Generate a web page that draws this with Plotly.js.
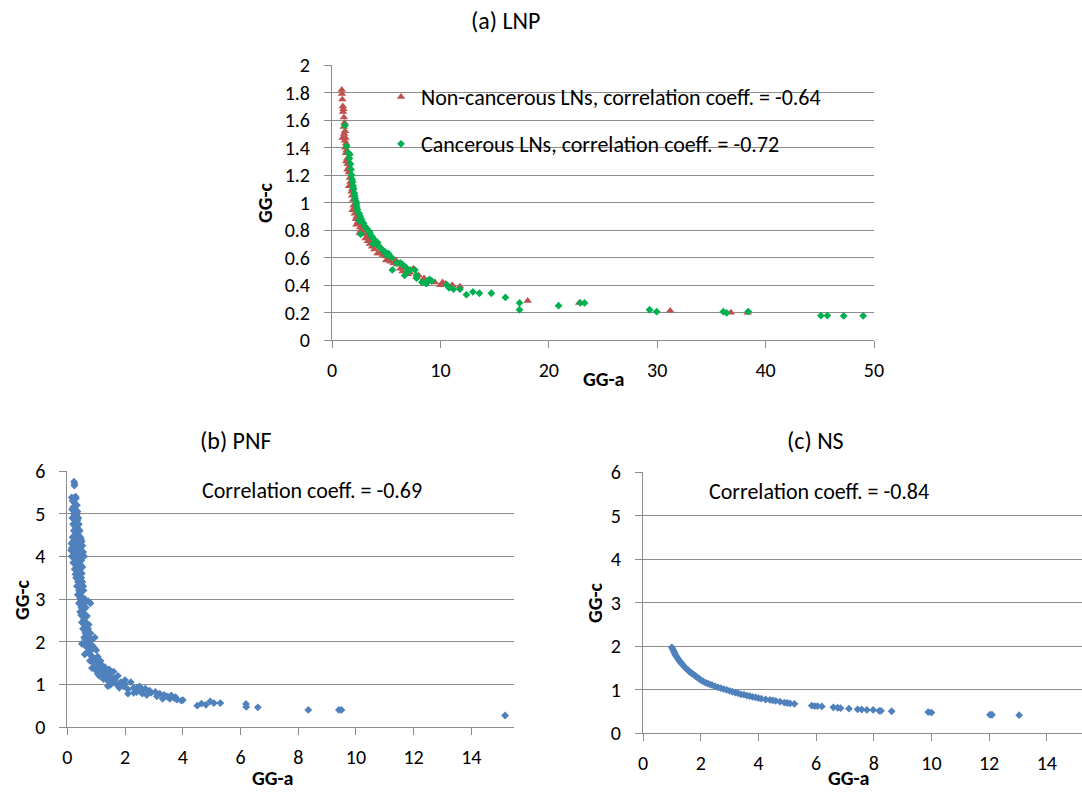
<!DOCTYPE html>
<html>
<head>
<meta charset="utf-8">
<script src="https://cdn.plot.ly/plotly-3.0.1.min.js"></script>
<style>html,body{margin:0;padding:0;background:#fff;}#chart{width:1082px;height:798px;}</style>
</head>
<body>
<div id="chart"></div>
<script>
// ---------- (a) LNP data ----------
const nonCancerX = [0.9,0.92,0.95,1.0,1.02,1.05,0.98,1.1,1.08,1.12,1.15,1.2,1.18,1.25,1.22,1.3,1.28,1.35,1.4,1.32,1.45,1.5,1.42,1.55,1.6,1.65,1.7,1.58,1.75,1.8,1.85,1.9,1.95,2.0,1.88,2.05,2.1,2.2,2.15,2.3,2.4,2.25,2.5,2.6,2.7,2.8,2.55,2.9,3.0,3.1,3.2,3.3,3.4,3.5,3.6,3.7,3.8,3.9,4.0,4.2,4.4,4.5,4.3,4.7,4.9,5.0,5.2,5.4,5.5,5.7,5.9,6.0,6.3,6.5,6.8,7.0,7.2,7.5,7.8,8.0,8.5,9.0,9.5,10.0,10.2,10.5,11.1,11.8,18.05,22.8,31.2,36.8,38.35];
const nonCancerY = [1.82,1.79,1.75,1.70,1.66,1.68,1.47,1.62,1.55,1.50,1.58,1.52,1.45,1.47,1.40,1.43,1.36,1.38,1.32,1.30,1.28,1.30,1.24,1.22,1.26,1.18,1.15,1.12,1.12,1.08,1.05,0.945,1.02,0.98,1.10,0.95,0.92,0.88,0.97,0.90,0.86,0.84,0.85,0.82,0.80,0.83,0.78,0.77,0.80,0.74,0.77,0.72,0.75,0.70,0.73,0.68,0.71,0.66,0.70,0.63,0.63,0.67,0.69,0.62,0.61,0.58,0.60,0.57,0.59,0.56,0.58,0.55,0.52,0.50,0.53,0.48,0.49,0.52,0.46,0.47,0.45,0.43,0.42,0.40,0.42,0.41,0.40,0.39,0.285,0.27,0.213,0.20,0.20];
const cancerX = [1.2,1.35,1.5,1.64,1.6,1.7,1.75,1.8,1.85,1.9,1.95,2.0,2.05,2.1,2.15,2.2,2.25,2.3,2.35,2.4,2.5,2.6,2.7,2.5,2.8,2.9,3.0,3.1,3.2,2.65,3.3,3.4,3.5,3.6,3.7,3.8,4.0,4.2,3.8,4.3,4.5,4.7,4.9,5.0,5.2,5.5,5.57,6.0,6.3,6.5,6.8,7.0,6.7,7.2,7.65,7.8,7.8,8.3,8.8,8.7,9.0,9.2,10.6,10.8,11.2,11.8,12.4,13.0,13.6,14.7,16.0,17.3,17.3,20.9,22.9,23.3,29.3,29.95,36.1,36.4,38.4,45.1,45.7,47.2,49.0];
const cancerY = [1.56,1.41,1.36,1.35,1.32,1.28,1.24,1.20,1.17,1.15,1.12,1.10,1.07,1.05,1.03,1.01,0.99,0.97,0.95,0.93,0.92,0.90,0.88,0.87,0.86,0.85,0.83,0.82,0.81,0.77,0.80,0.79,0.78,0.76,0.75,0.74,0.72,0.71,0.70,0.68,0.67,0.65,0.64,0.62,0.63,0.60,0.51,0.56,0.56,0.55,0.53,0.50,0.47,0.51,0.51,0.47,0.45,0.42,0.43,0.41,0.44,0.43,0.40,0.38,0.37,0.37,0.33,0.35,0.34,0.34,0.31,0.27,0.22,0.25,0.27,0.27,0.22,0.206,0.206,0.197,0.207,0.177,0.178,0.175,0.176];

// ---------- (b) PNF data ----------
const pnfX = [0.23,0.25,0.24,0.15,0.2,0.28,0.3,0.18,0.25,0.33,0.2,0.28,0.35,0.22,0.3,0.38,0.17,0.26,0.33,0.4,0.2,0.28,0.36,0.43,0.22,0.3,0.38,0.45,0.18,0.26,0.34,0.42,0.5,0.14,0.22,0.3,0.38,0.46,0.12,0.2,0.28,0.36,0.44,0.55,0.58,0.15,0.24,0.32,0.4,0.48,0.2,0.28,0.36,0.44,0.52,0.25,0.32,0.4,0.48,0.3,0.37,0.45,0.52,0.33,0.4,0.48,0.56,0.36,0.44,0.52,0.6,0.72,0.8,0.4,0.48,0.56,0.64,0.44,0.52,0.6,0.68,0.5,0.58,0.66,0.74,0.54,0.62,0.7,0.8,0.58,0.66,0.75,0.85,0.95,0.5,0.62,0.72,0.82,0.92,1.0,0.6,0.75,0.85,0.95,1.05,1.15,0.78,0.9,1.0,1.1,1.2,1.3,1.45,1.6,0.85,1.0,1.15,1.3,1.45,1.6,1.75,1.1,1.25,1.4,1.55,1.7,1.85,2.0,2.2,1.48,1.4,1.8,1.95,2.1,2.3,2.5,2.6,2.7,2.1,2.3,2.4,2.6,2.75,2.9,3.05,3.2,3.35,3.5,3.6,3.75,3.3,3.55,3.8,3.95,4.0,4.5,4.65,4.8,4.95,5.08,5.3,6.19,6.2,6.6,8.35,9.41,9.5,15.17,
  0.16,0.24,0.32,0.27,0.35,0.24,0.31,0.4,0.26,0.34,0.47,0.2,0.3,0.4,0.52,0.16,0.25,0.33,0.42,0.5,0.3,0.38,0.45,0.35,0.42,0.5,0.28,0.36,0.44,0.55,0.38,0.45,0.42,0.5,0.58,0.46,0.52,0.6,0.48,0.56,0.64,0.72,0.6,0.68,0.76,0.62,0.7,0.88,0.68,0.8,0.9,1.02,0.95,1.12,1.22,1.35,1.5,1.05,1.2,1.35,1.5,1.65,1.8,2.0,2.4,2.55,2.85,3.1,3.45,3.7];
const pnfY = [5.75,5.70,5.66,5.38,5.35,5.40,5.36,5.30,5.25,5.20,5.15,5.10,5.05,5.00,4.95,4.90,4.90,4.85,4.80,4.75,4.75,4.70,4.65,4.60,4.60,4.55,4.50,4.45,4.45,4.40,4.35,4.30,4.35,4.30,4.25,4.20,4.15,4.20,4.15,4.10,4.05,4.00,4.05,4.10,4.00,4.00,3.95,3.90,3.85,3.90,3.85,3.80,3.75,3.70,3.75,3.70,3.60,3.55,3.50,3.50,3.40,3.35,3.40,3.30,3.20,3.15,3.20,3.10,3.00,2.95,3.00,2.95,2.90,2.90,2.80,2.75,2.80,2.70,2.60,2.55,2.60,2.45,2.40,2.35,2.40,2.30,2.20,2.15,2.20,2.10,2.00,1.95,2.05,2.10,1.95,1.90,1.85,1.80,1.85,1.80,1.70,1.72,1.65,1.60,1.65,1.55,1.55,1.50,1.45,1.50,1.45,1.40,1.35,1.30,1.38,1.32,1.28,1.25,1.20,1.15,1.20,1.20,1.12,1.08,1.05,1.00,1.05,1.10,1.05,0.98,0.96,0.92,0.95,0.88,0.92,0.95,0.88,0.90,0.78,0.80,0.82,0.78,0.75,0.80,0.82,0.78,0.75,0.70,0.74,0.70,0.66,0.66,0.64,0.62,0.63,0.50,0.55,0.52,0.60,0.56,0.56,0.54,0.47,0.46,0.40,0.40,0.40,0.27,
  5.10,5.05,4.98,4.90,4.85,4.78,4.68,4.60,4.50,4.45,4.40,4.35,4.30,4.25,4.25,4.20,4.15,4.12,4.10,4.00,3.95,3.95,3.80,3.65,3.62,3.60,3.58,3.45,3.45,3.30,3.28,3.25,3.08,3.05,2.90,2.95,2.85,2.65,2.62,2.50,2.45,2.30,2.30,2.25,2.10,2.05,1.95,1.90,1.75,1.70,1.62,1.55,1.48,1.40,1.35,1.32,1.28,1.25,1.22,1.18,1.12,1.10,1.00,1.00,0.90,0.82,0.85,0.72,0.72,0.68];

// ---------- (c) NS data ----------
const nsX = [1.0,1.02,1.05,1.08,1.1,1.13,1.16,1.2,1.24,1.28,1.32,1.36,1.4,1.45,1.5,1.55,1.6,1.65,1.7,1.76,1.82,1.88,1.94,2.0,2.08,2.16,2.24,2.32,2.4,2.5,2.6,2.7,2.8,2.9,3.0,3.1,3.2,3.3,3.4,3.5,3.6,3.7,3.8,3.9,4.0,4.1,4.25,4.4,4.5,4.6,4.75,4.9,5.0,5.1,5.25,5.85,5.95,6.05,6.2,6.6,6.75,6.85,7.14,7.44,7.58,7.76,7.98,8.19,8.25,8.62,9.89,10.0,12.03,12.1,13.04];
const nsY = [1.97,1.94,1.90,1.86,1.83,1.79,1.76,1.72,1.68,1.64,1.61,1.58,1.55,1.51,1.48,1.45,1.42,1.39,1.37,1.34,1.31,1.28,1.25,1.22,1.19,1.16,1.14,1.12,1.10,1.07,1.05,1.03,1.01,0.99,0.97,0.95,0.93,0.91,0.89,0.88,0.86,0.85,0.83,0.82,0.80,0.79,0.77,0.76,0.75,0.74,0.72,0.70,0.69,0.68,0.67,0.63,0.62,0.62,0.61,0.59,0.58,0.57,0.56,0.545,0.54,0.53,0.53,0.51,0.51,0.50,0.48,0.47,0.42,0.42,0.41];

// ---------- labels ----------
const panelTitles = ['(a) LNP', '(b) PNF', '(c) NS'];
const seriesNames = ['Non-cancerous LNs, correlation coeff. = -0.64', 'Cancerous LNs, correlation coeff. = -0.72'];
const corrTexts = ['Correlation coeff. = -0.69', 'Correlation coeff. = -0.84'];
const xTitle = 'GG-a', yTitle = 'GG-c';

const W = 1082, H = 798;
const px = v => v / W;
const py = v => 1 - v / H;
const FONT = 'Carlito, Lato, "Open Sans", sans-serif';
const GRID = '#8c8c8c';
const TICKSIZE = 20;

function axX(dom, range, dtick, anchor) {
  return {domain: dom, range: range, dtick: dtick, tick0: 0, anchor: anchor,
    showgrid: false, zeroline: false, showline: true, linecolor: GRID, linewidth: 1,
    ticks: 'outside', ticklen: 7, tickcolor: GRID, ticklabelstandoff: 5,
    tickfont: {size: TICKSIZE, color: '#000', family: FONT}, fixedrange: true};
}
function axY(dom, range, dtick, anchor) {
  return {domain: dom, range: range, dtick: dtick, tick0: 0, anchor: anchor,
    showgrid: true, gridcolor: GRID, gridwidth: 1, zeroline: false, showline: true, linecolor: GRID, linewidth: 1,
    ticks: 'outside', ticklen: 7, tickcolor: GRID, ticklabelstandoff: 10,
    tickfont: {size: TICKSIZE, color: '#000', family: FONT}, fixedrange: true};
}

const data = [
  {type: 'scatter', mode: 'markers', x: nonCancerX, y: nonCancerY, name: seriesNames[0],
   xaxis: 'x', yaxis: 'y', legend: 'legend',
   marker: {symbol: 'triangle-up', size: 7.5, color: '#C0504D'}},
  {type: 'scatter', mode: 'markers', x: cancerX, y: cancerY, name: seriesNames[1],
   xaxis: 'x', yaxis: 'y', legend: 'legend2',
   marker: {symbol: 'diamond', size: 6, color: '#00B050'}},
  {type: 'scatter', mode: 'markers', x: pnfX, y: pnfY, xaxis: 'x2', yaxis: 'y2', showlegend: false,
   marker: {symbol: 'diamond', size: 6, color: '#4F81BD'}},
  {type: 'scatter', mode: 'markers', x: nsX, y: nsY, xaxis: 'x3', yaxis: 'y3', showlegend: false,
   marker: {symbol: 'diamond', size: 6, color: '#4F81BD'}}
];

function ann(text, x, y, opts) {
  return Object.assign({text: text, xref: 'paper', yref: 'paper', x: px(x), y: py(y),
    xanchor: 'center', yanchor: 'middle', showarrow: false,
    font: {size: 22, color: '#000', family: FONT}}, opts || {});
}
const boldFont = {size: 20, color: '#000', family: FONT, weight: 'bold'};
const titleFont = {size: 24, color: '#000', family: FONT};

const layout = {
  width: W, height: H, margin: {l: 0, r: 0, t: 0, b: 0},
  paper_bgcolor: '#fff', plot_bgcolor: 'rgba(0,0,0,0)',
  font: {family: FONT, color: '#000'},
  showlegend: true,
  xaxis: axX([px(332), px(874)], [0, 50], 10, 'y'),
  yaxis: axY([py(340), py(65)], [0, 2], 0.2, 'x'),
  xaxis2: axX([px(67.4), px(514)], [0, 15.48], 2, 'y2'),
  yaxis2: axY([py(727), py(471)], [0, 6], 1, 'x2'),
  xaxis3: axX([px(643), 1], [0, 15.22], 2, 'y3'),
  yaxis3: axY([py(733), py(472)], [0, 6], 1, 'x3'),
  legend: {x: px(381), y: py(97), xanchor: 'left', yanchor: 'middle', bgcolor: 'rgba(0,0,0,0)',
    font: {size: 22, family: FONT, color: '#000'}, itemwidth: 30},
  legend2: {x: px(381), y: py(144), xanchor: 'left', yanchor: 'middle', bgcolor: 'rgba(0,0,0,0)',
    font: {size: 22, family: FONT, color: '#000'}, itemwidth: 30},
  annotations: [
    ann(panelTitles[0], 505, 21, {font: titleFont}),
    ann(panelTitles[1], 236, 440, {font: titleFont}),
    ann(panelTitles[2], 815, 440, {font: titleFont}),
    ann(xTitle, 603, 379, {font: boldFont}),
    ann(xTitle, 272, 778, {font: boldFont}),
    ann(xTitle, 848, 778, {font: boldFont}),
    ann(yTitle, 265, 203, {font: boldFont, textangle: -90}),
    ann(yTitle, 22, 600, {font: boldFont, textangle: -90}),
    ann(yTitle, 595, 603, {font: boldFont, textangle: -90}),
    ann(corrTexts[0], 200, 490, {xanchor: 'left'}),
    ann(corrTexts[1], 707, 491, {xanchor: 'left'})
  ]
};

Plotly.newPlot('chart', data, layout, {displayModeBar: false, staticPlot: true});
</script>
</body>
</html>
